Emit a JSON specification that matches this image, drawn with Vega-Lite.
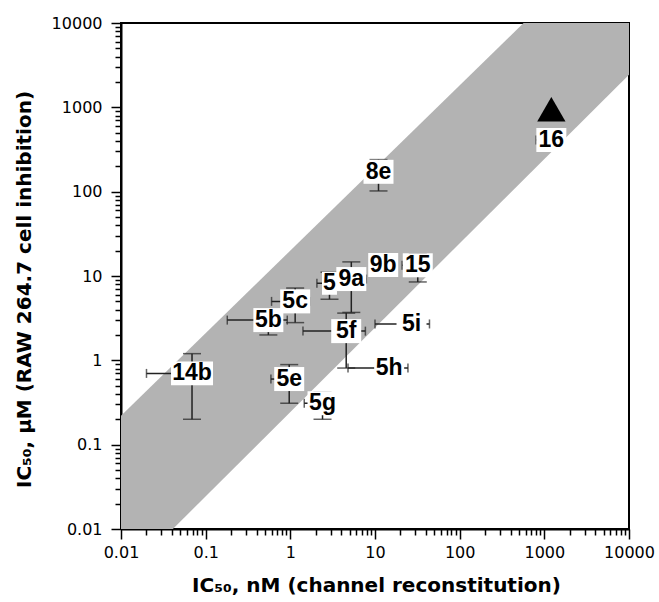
{
  "$schema": "https://vega.github.io/schema/vega-lite/v6.json",
  "width": 508,
  "height": 506,
  "autosize": {"type": "none"},
  "padding": {"left": 121, "top": 23, "right": 30, "bottom": 73},
  "background": "white",
  "config": {"view": {"stroke": "black", "strokeWidth": 2}, "axis": {"ticks": true}},
  "resolve": {"axis": {"x": "independent", "y": "independent"}},
  "datasets": {
    "band": [
      {"x": 0.01, "lo": 0.00244, "hi": 0.22},
      {"x": 10000, "lo": 2440, "hi": 166000}
    ],
    "pts": [
      {"label": "14b", "x": 0.069, "y": 0.70, "xlo": 0.020, "xhi": 0.118, "ylo": 0.20, "yhi": 1.20},
      {"label": "5b", "x": 0.55, "y": 3.0, "xlo": 0.18, "xhi": 0.92, "ylo": 2.0, "yhi": 4.0},
      {"label": "5c", "x": 1.14, "y": 5.0, "xlo": 0.60, "xhi": 1.68, "ylo": 2.8, "yhi": 7.2},
      {"label": "5e", "x": 0.97, "y": 0.60, "xlo": 0.59, "xhi": 1.35, "ylo": 0.31, "yhi": 0.89},
      {"label": "5g", "x": 2.4, "y": 0.31, "xlo": 1.46, "xhi": 3.34, "ylo": 0.20, "yhi": 0.42},
      {"label": "5", "x": 2.9, "y": 8.2, "xlo": 2.06, "xhi": 3.74, "ylo": 5.3, "yhi": 11.1},
      {"label": "9a", "x": 5.25, "y": 9.2, "xlo": 2.6, "xhi": 7.9, "ylo": 3.7, "yhi": 14.7},
      {"label": "5f", "x": 4.57, "y": 2.22, "xlo": 1.41, "xhi": 7.7, "ylo": 0.81, "yhi": 3.63},
      {"label": "5h", "x": 14.7, "y": 0.81, "xlo": 4.8, "xhi": 24.5, "ylo": null, "yhi": null},
      {"label": "5i", "x": 27, "y": 2.7, "xlo": 10.0, "xhi": 44, "ylo": null, "yhi": null},
      {"label": "9b", "x": 12.5, "y": 13.5, "xlo": null, "xhi": null, "ylo": null, "yhi": null},
      {"label": "15", "x": 32, "y": 13.4, "xlo": 20.9, "xhi": 43.5, "ylo": 8.5, "yhi": 18.3},
      {"label": "8e", "x": 11, "y": 172, "xlo": null, "xhi": null, "ylo": 102, "yhi": 240},
      {"label": "16", "x": 1210, "y": 410, "xlo": 800, "xhi": 1620, "ylo": null, "yhi": null}
    ],
    "tri": [{"x": 1210, "y": 950}]
  },
  "layer": [
    {
      "data": {"name": "band"},
      "mark": {"type": "area", "clip": true, "color": "#b3b3b3", "opacity": 1},
      "encoding": {
        "x": {
          "field": "x", "type": "quantitative",
          "scale": {"type": "log", "domain": [0.01, 10000], "nice": false},
          "axis": {
            "orient": "bottom",
            "values": [0.01, 0.1, 1, 10, 100, 1000, 10000],
            "format": "~g",
            "ticks": true, "tickSize": 10,
            "labelOverlap": false, "labelFlush": false, "labelBound": false,
            "grid": false,
            "domainColor": "black", "domainWidth": 2,
            "tickColor": "black", "tickWidth": 1.5,
            "labelFont": "DejaVu Sans", "labelFontSize": 16, "labelColor": "black", "labelPadding": 5,
            "title": "IC₅₀, nM (channel reconstitution)",
            "titleFont": "DejaVu Sans", "titleFontSize": 20, "titleFontWeight": "bold", "titleColor": "black",
            "titleX": 255, "titleY": 62, "titleBaseline": "alphabetic", "titleAlign": "center"
          }
        },
        "y": {
          "field": "lo", "type": "quantitative",
          "scale": {"type": "log", "domain": [0.01, 10000], "nice": false},
          "axis": {
            "orient": "left",
            "values": [0.01, 0.1, 1, 10, 100, 1000, 10000],
            "format": "~g",
            "ticks": true, "tickSize": 10,
            "labelOverlap": false, "labelFlush": false, "labelBound": false,
            "grid": false,
            "domainColor": "black", "domainWidth": 2,
            "tickColor": "black", "tickWidth": 1.5,
            "labelFont": "DejaVu Sans", "labelFontSize": 16, "labelColor": "black", "labelPadding": 9,
            "title": "IC₅₀, µM (RAW 264.7 cell inhibition)",
            "titleFont": "DejaVu Sans", "titleFontSize": 20, "titleFontWeight": "bold", "titleColor": "black",
            "titleX": -91, "titleY": 266, "titleAngle": 270, "titleBaseline": "alphabetic", "titleAlign": "center"
          }
        },
        "y2": {"field": "hi"}
      }
    },
    {
      "data": {"name": "pts"},
      "transform": [{"filter": "isValid(datum.xlo)"}],
      "mark": {"type": "errorbar", "color": "#222222", "rule": {"strokeWidth": 1.5}, "ticks": {"size": 9, "thickness": 1.5}},
      "encoding": {
        "x": {"field": "xlo", "type": "quantitative", "scale": {"type": "log", "domain": [0.01, 10000], "nice": false}, "axis": null},
        "x2": {"field": "xhi"},
        "y": {"field": "y", "type": "quantitative", "scale": {"type": "log", "domain": [0.01, 10000], "nice": false}, "axis": null}
      }
    },
    {
      "data": {"name": "pts"},
      "transform": [{"filter": "isValid(datum.ylo)"}],
      "mark": {"type": "errorbar", "color": "#222222", "rule": {"strokeWidth": 1.5}, "ticks": {"size": 18, "thickness": 1.5}},
      "encoding": {
        "y": {"field": "ylo", "type": "quantitative", "scale": {"type": "log", "domain": [0.01, 10000], "nice": false}, "axis": null},
        "y2": {"field": "yhi"},
        "x": {"field": "x", "type": "quantitative", "scale": {"type": "log", "domain": [0.01, 10000], "nice": false}, "axis": null}
      }
    },
    {
      "data": {"name": "pts"},
      "transform": [{"filter": "length(datum.label) == 1"}],
      "mark": {"type": "point", "filled": true, "color": "white", "opacity": 1, "strokeWidth": 0, "size": 529, "shape": "M-0.65,-1H0.65V1H-0.65Z"},
      "encoding": {
        "x": {"field": "x", "type": "quantitative", "scale": {"type": "log", "domain": [0.01, 10000], "nice": false}, "axis": null},
        "y": {"field": "y", "type": "quantitative", "scale": {"type": "log", "domain": [0.01, 10000], "nice": false}, "axis": null}
      }
    },
    {
      "data": {"name": "pts"},
      "transform": [{"filter": "length(datum.label) == 2"}],
      "mark": {"type": "point", "filled": true, "color": "white", "opacity": 1, "strokeWidth": 0, "size": 900, "shape": "M-1,-0.8H1V0.8H-1Z"},
      "encoding": {
        "x": {"field": "x", "type": "quantitative", "scale": {"type": "log", "domain": [0.01, 10000], "nice": false}, "axis": null},
        "y": {"field": "y", "type": "quantitative", "scale": {"type": "log", "domain": [0.01, 10000], "nice": false}, "axis": null}
      }
    },
    {
      "data": {"name": "pts"},
      "transform": [{"filter": "length(datum.label) == 3"}],
      "mark": {"type": "point", "filled": true, "color": "white", "opacity": 1, "strokeWidth": 0, "size": 1764, "shape": "M-1,-0.57H1V0.57H-1Z"},
      "encoding": {
        "x": {"field": "x", "type": "quantitative", "scale": {"type": "log", "domain": [0.01, 10000], "nice": false}, "axis": null},
        "y": {"field": "y", "type": "quantitative", "scale": {"type": "log", "domain": [0.01, 10000], "nice": false}, "axis": null}
      }
    },
    {
      "data": {"name": "pts"},
      "mark": {"type": "text", "font": "Liberation Sans", "fontWeight": "bold", "fontSize": 23, "align": "center", "baseline": "middle", "color": "black"},
      "encoding": {
        "x": {"field": "x", "type": "quantitative", "scale": {"type": "log", "domain": [0.01, 10000], "nice": false}, "axis": null},
        "y": {"field": "y", "type": "quantitative", "scale": {"type": "log", "domain": [0.01, 10000], "nice": false}, "axis": null},
        "text": {"field": "label"}
      }
    },
    {
      "data": {"name": "tri"},
      "mark": {"type": "point", "shape": "triangle-up", "filled": true, "color": "black", "opacity": 1, "size": 800},
      "encoding": {
        "x": {
          "field": "x", "type": "quantitative",
          "scale": {"type": "log", "domain": [0.01, 10000], "nice": false},
          "axis": {
            "orient": "bottom",
            "values": [0.02,0.03,0.04,0.05,0.06,0.07,0.08,0.09,0.2,0.3,0.4,0.5,0.6,0.7,0.8,0.9,2,3,4,5,6,7,8,9,20,30,40,50,60,70,80,90,200,300,400,500,600,700,800,900,2000,3000,4000,5000,6000,7000,8000,9000],
            "labels": false, "domain": false, "grid": false, "title": null,
            "ticks": true, "tickSize": 6, "tickColor": "black", "tickWidth": 1.5
          }
        },
        "y": {
          "field": "y", "type": "quantitative",
          "scale": {"type": "log", "domain": [0.01, 10000], "nice": false},
          "axis": {
            "orient": "left",
            "values": [0.02,0.03,0.04,0.05,0.06,0.07,0.08,0.09,0.2,0.3,0.4,0.5,0.6,0.7,0.8,0.9,2,3,4,5,6,7,8,9,20,30,40,50,60,70,80,90,200,300,400,500,600,700,800,900,2000,3000,4000,5000,6000,7000,8000,9000],
            "labels": false, "domain": false, "grid": false, "title": null,
            "ticks": true, "tickSize": 6, "tickColor": "black", "tickWidth": 1.5
          }
        }
      }
    }
  ]
}
